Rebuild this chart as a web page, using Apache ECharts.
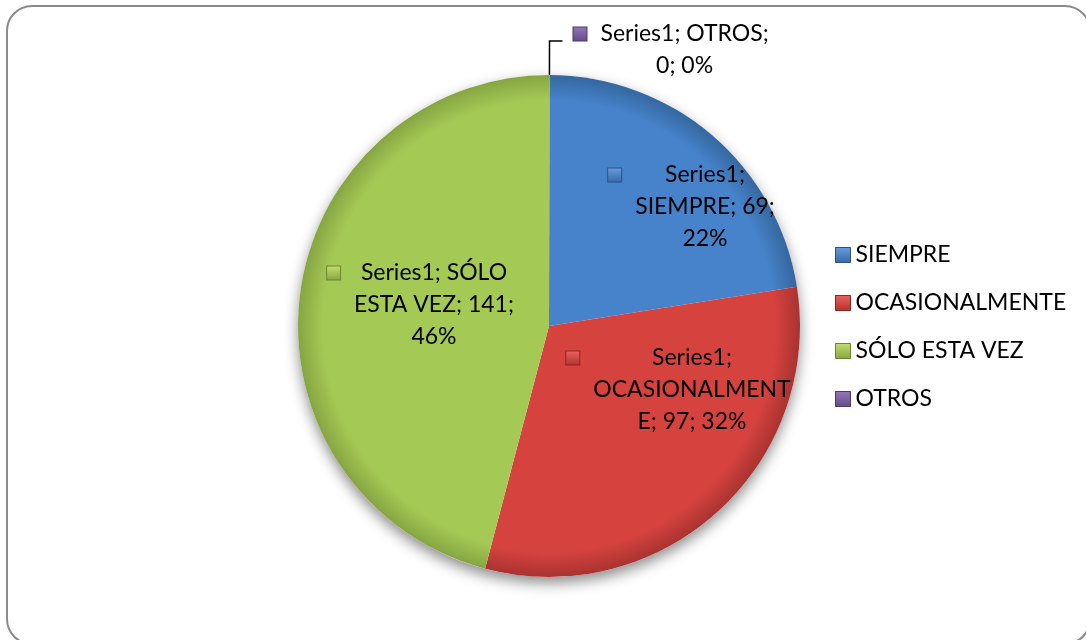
<!DOCTYPE html>
<html><head><meta charset="utf-8">
<script src="https://cdn.jsdelivr.net/npm/echarts@6/dist/echarts.min.js"></script>
<style>html,body{margin:0;padding:0;background:#fff}#c{width:1086px;height:640px}</style>
</head><body><div id="c"></div>
<script>
// ---- data ----
const seriesName = 'Series1';
const categories = ['SIEMPRE', 'OCASIONALMENTE', 'SÓLO ESTA VEZ', 'OTROS'];
const values = [69, 97, 141, 0];

// ---- style / layout ----
const FONT = 'Lato';
const FS = 23;
const LH = 32;
const baseColors = ['#4683CB', '#D6433F', '#A5C955', '#8064A2'];
const edgeColors = ['#35679F', '#A93330', '#86A542', '#5E4A80'];
const markerTop = ['#6A9EDC', '#E8635E', '#C3E070', '#9479BA'];
const markerBot = ['#3668A8', '#B3322E', '#86A640', '#634A87'];
const markerEdge = ['#2A5285', '#8C2624', '#6A862F', '#4C3A66'];
const cx = 549, cy = 326, R = 251;
const refWrap = [150, 200, 165, 182];      // wrap widths in reference px
const labelPos = [[705, 207], [692, 390], [434, 305], null];

const ctx = document.createElement('canvas').getContext('2d');
ctx.font = FS + 'px ' + FONT;
const tw = t => ctx.measureText(t).width;
const k = tw('OCASIONALMENT') / 195;

function wrap(text, maxW) {
  const words = text.split(' ');
  const lines = [];
  let cur = '';
  for (const word of words) {
    const cand = cur ? cur + ' ' + word : word;
    if (tw(cand) <= maxW) { cur = cand; continue; }
    if (cur) lines.push(cur);
    cur = word;
    while (tw(cur) > maxW) {
      let n = cur.length - 1;
      while (n > 1 && tw(cur.slice(0, n)) > maxW) n--;
      lines.push(cur.slice(0, n));
      cur = cur.slice(n);
    }
  }
  if (cur) lines.push(cur);
  return lines;
}

function pct(i) {
  return echarts.number.getPercentWithPrecision(values, i, 0);
}

function markerGrad(i) {
  return {
    type: 'linear', x: 0, y: 0, x2: 0, y2: 1,
    colorStops: [
      { offset: 0, color: markerTop[i] },
      { offset: 1, color: markerBot[i] }
    ]
  };
}

function buildLabel(i) {
  const text = seriesName + '; ' + categories[i] + '; ' + values[i] + '; ' + pct(i) + '%';
  const lines = wrap(text, refWrap[i] * k);
  const W = Math.max(...lines.map(tw));
  const first = '{m| }{g| }{t|' + lines[0] + '}{r| }';
  const rest = lines.slice(1).map(l => '{c|' + l + '}');
  const str = [first].concat(rest).join('\n');
  const txt = { fontFamily: FONT, fontSize: FS, lineHeight: LH, color: '#000', align: 'center' };
  return {
    str,
    rich: {
      m: { width: 13, height: 13, align: 'left', backgroundColor: markerGrad(i), borderColor: markerEdge[i], borderWidth: 1 },
      g: { width: 14, align: 'left' },
      t: Object.assign({ width: W }, txt),
      c: txt,
      r: { width: 27, align: 'right' }
    }
  };
}

const data = categories.map((name, i) => {
  const lab = buildLabel(i);
  const item = {
    name: name,
    value: values[i],
    itemStyle: {
      color: {
        type: 'radial', x: cx, y: cy, r: R, global: true,
        colorStops: [
          { offset: 0, color: baseColors[i] },
          { offset: 0.9, color: baseColors[i] },
          { offset: 1, color: edgeColors[i] }
        ]
      }
    },
    label: { formatter: lab.str, rich: lab.rich }
  };
  if (values[i] === 0) {
    item.label.position = 'outside';
    item.label.padding = [18, 0, 0, 0];
    item.label.distanceToLabelLine = 11;
    item.labelLine = { show: true, length: 34, length2: 13, lineStyle: { color: '#000', width: 1.5 } };
  } else {
    item.label.position = 'inside';
    item.labelLine = { show: false };
  }
  return item;
});

const chart = echarts.init(document.getElementById('c'), null, { renderer: 'canvas' });
chart.setOption({
  backgroundColor: '#fff',
  animation: false,
  graphic: [{
    type: 'rect', z: -10,
    shape: { x: 7, y: 6, width: 1083, height: 638, r: 25 },
    style: { fill: 'none', stroke: '#8a8a8a', lineWidth: 2 }
  }],
  legend: {
    orient: 'vertical',
    left: 830, top: 238,
    icon: 'rect',
    itemWidth: 15, itemHeight: 15,
    itemGap: 24,
    textStyle: { fontFamily: FONT, fontSize: FS, lineHeight: 24, color: '#000' },
    data: categories.map((n, i) => ({ name: n, itemStyle: { color: markerGrad(i), borderColor: markerEdge[i], borderWidth: 1 } }))
  },
  series: [
    {
      type: 'pie', silent: true, center: [cx, cy], radius: R,
      label: { show: false }, labelLine: { show: false },
      itemStyle: { color: '#fff', shadowBlur: 14, shadowOffsetY: 6, shadowColor: 'rgba(0,0,0,0.45)' },
      data: [{ value: 1, name: '__shadow' }]
    },
    {
      type: 'pie',
      name: seriesName,
      center: [cx, cy],
      radius: R,
      startAngle: 89.9,
      clockwise: true,
      avoidLabelOverlap: false,
      percentPrecision: 0,
      label: { show: true, color: '#000', fontFamily: FONT, fontSize: FS, lineHeight: LH, align: 'center' },
      labelLayout: function (p) {
        const pos = labelPos[p.dataIndex];
        if (!pos) return {};
        return { x: pos[0], y: pos[1] };
      },
      data: data
    }
  ]
});
</script>
</body></html>
